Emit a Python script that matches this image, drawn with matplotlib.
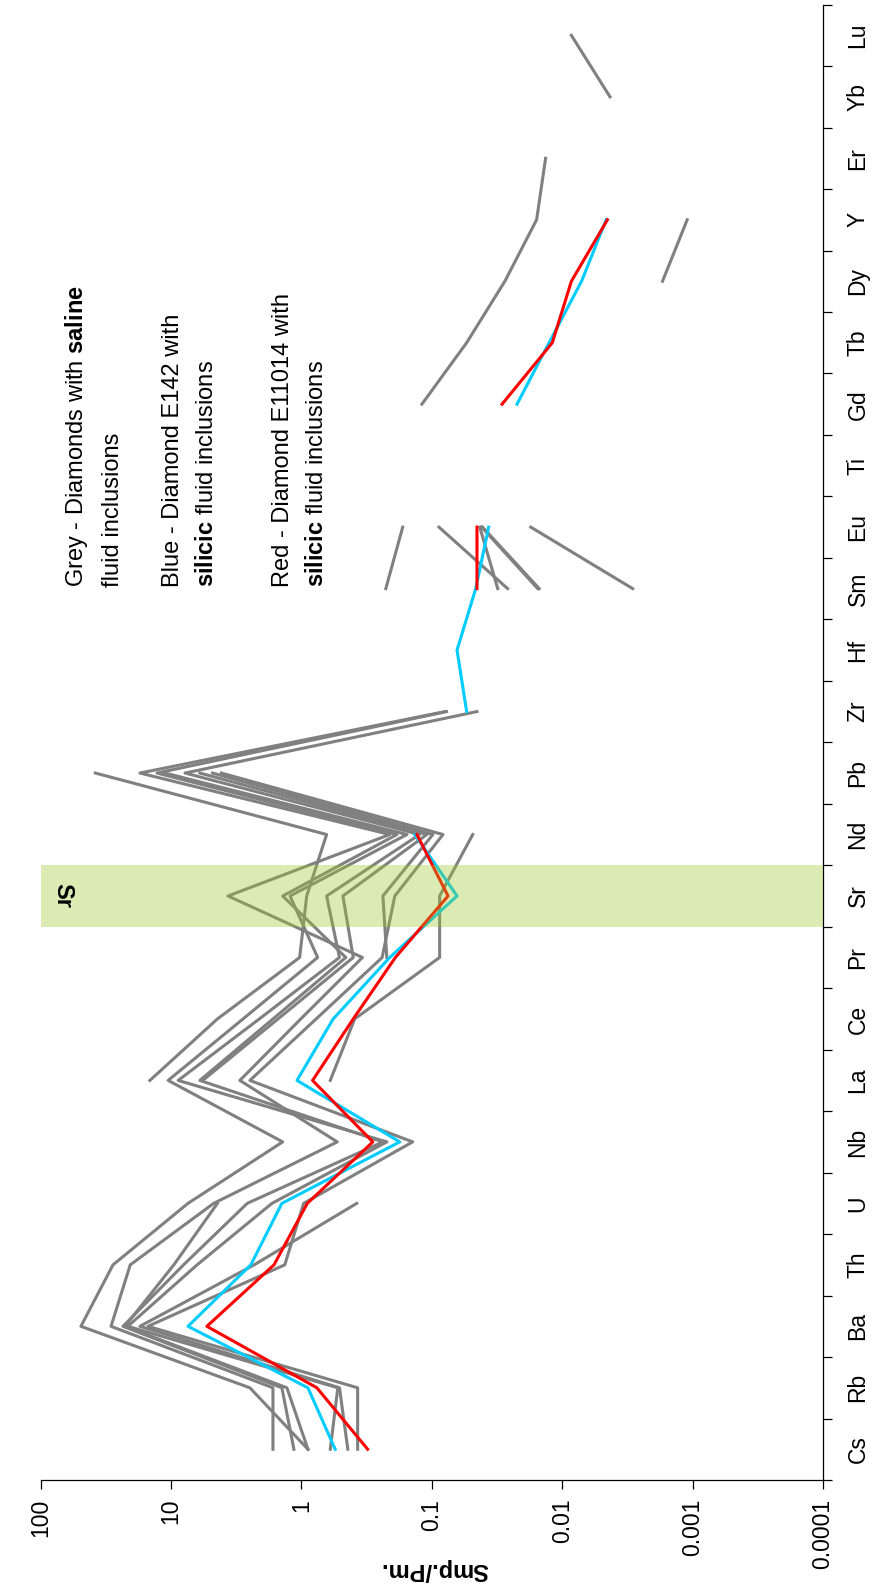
import numpy as np
import matplotlib
matplotlib.use("Agg")
import matplotlib.pyplot as plt
from matplotlib.ticker import NullLocator

plt.rcParams['font.family'] = ['Liberation Sans', 'DejaVu Sans']
plt.rcParams['mathtext.fontset'] = 'custom'
plt.rcParams['mathtext.rm'] = 'Liberation Sans'
plt.rcParams['mathtext.bf'] = 'Liberation Sans:bold'

n = np.nan
elements = ['Cs', 'Rb', 'Ba', 'Th', 'U', 'Nb', 'La', 'Ce', 'Pr', 'Sr', 'Nd', 'Pb',
            'Zr', 'Hf', 'Sm', 'Eu', 'Ti', 'Gd', 'Tb', 'Dy', 'Y', 'Er', 'Yb', 'Lu']

# grey - diamonds with saline fluid inclusions (gaps = no data)
grey1 = [0.89, 2.48, 49, 27.8, 7.4, 1.39, 10.5, 2.8, 0.75, 1.22, 0.155, 11.1,
         n, n, 0.225, 0.167, n, n, n, n, n, n, n, n]
grey2 = [1.65, 1.65, 28.8, 20.5, 4.7, 0.53, 2.96, 1.01, 0.34, 3.65, 0.21, 17.3,
         0.079, n, 0.0262, 0.088, n, n, n, n, n, n, 0.0043, 0.0085]
grey3 = [1.14, 1.41, 23.3, 8.0, 2.6, 0.237, 6.0, 1.65, 0.456, 1.39, 0.185, 12.8,
         0.077, n, 0.0312, 0.0428, n, n, n, n, n, n, n, n]
grey4 = [0.60, 0.525, 21.4, 6.3, 1.68, 0.221, 8.8, 2.1, 0.51, 0.64, 0.124, 7.8,
         0.045, n, 0.0154, 0.0414, n, n, n, n, n, n, n, n]
grey5 = [0.44, 0.51, 17.3, 2.3, 0.376, n, n, n, n, n, n, n,
         n, n, n, n, n, n, n, 0.0017, 0.0011, n, n, n]
grey6 = [0.37, 0.37, 15.0, 1.34, 0.96, 0.14, 2.48, 0.77, 0.24, 0.192, 0.082, 4.1,
         n, n, 0.00288, 0.0174, n, n, n, n, n, n, n, n]
grey7 = [0.89, 1.29, 22.5, 9.5, 4.4, n, n, n, n, n, n, n,
         n, n, n, n, n, n, n, n, n, n, n, n]
grey8 = [n, n, n, n, n, n, 14.5, 4.4, 1.03, 0.91, 0.64, 38,
         n, n, n, n, n, n, n, n, n, n, n, n]
grey9 = [n, n, n, n, n, n, 5.7, 1.51, 0.40, 0.48, 0.109, 6.0,
         n, n, 0.0150, 0.0408, n, n, n, n, n, n, n, n]
grey10 = [n, n, n, n, n, n, n, n, 0.221, 0.237, 0.098, 4.8,
          n, n, n, n, n, 0.119, 0.054, 0.0275, 0.0157, 0.0134, n, n]
grey11 = [n, n, n, n, n, n, 0.6, 0.39, 0.087, 0.087, 0.0485, n,
          n, n, n, n, n, n, n, n, n, n, n, n]
greys = [grey1, grey2, grey3, grey4, grey5, grey6, grey7, grey8, grey9, grey10, grey11]

# blue - diamond E142, red - diamond E11014
blue = [0.55, 0.89, 7.4, 2.44, 1.41, 0.176, 1.08, 0.57, 0.21, 0.064, 0.135, n,
        0.054, 0.064, 0.046, 0.0366, n, 0.0222, 0.0126, 0.0071, 0.0046, n, n, n]
red = [0.31, 0.76, 5.3, 1.62, 0.90, 0.283, 0.82, 0.40, 0.19, 0.075, 0.13, n,
       n, n, 0.045, 0.045, n, 0.0289, 0.0119, 0.0085, 0.0045, n, n, n]

xticks = [100, 10, 1, 0.1, 0.01, 0.001, 0.0001]
xticklabels = ['100', '10', '1', '0.1', '0.01', '0.001', '0.0001']

W, H = 877, 1592
fig = plt.figure(figsize=(W / 100, H / 100), dpi=100)
# chart is drawn turned by 90 degrees: values run along x, elements along y
ax = fig.add_axes([40.5 / W, 1 - 1480 / H, (823 - 40.5) / W, (1480 - 4.6) / H])

pos = np.arange(len(elements)) + 0.5
for g in greys:
    ax.plot(g, pos, color='#808080', lw=2.2, zorder=2)
ax.plot(blue, pos, color='#00CCFF', lw=2.2, zorder=3)
ax.plot(red, pos, color='#FF0000', lw=2.2, zorder=4)

# Sr highlight band
sr = elements.index('Sr')
ax.axhspan(sr, sr + 1, color='#9BC828', alpha=0.35, lw=0, zorder=5)
ax.text(0.028, sr + 0.5, 'Sr', transform=ax.get_yaxis_transform(), rotation=270,
        ha='center', va='center', fontsize=17, fontweight='bold', zorder=6)

ax.set_xscale('log')
ax.set_xlim(100, 0.0001)
ax.set_ylim(0, len(elements))
ax.set_xticks(xticks)
ax.set_xticklabels(xticklabels)
ax.xaxis.set_minor_locator(NullLocator())
ax.tick_params(axis='x', which='major', direction='out', length=6.5, width=0.9,
               labelsize=16.5, labelrotation=90, pad=7)

ax.yaxis.tick_right()
ax.set_yticks(np.arange(len(elements) + 1))
ax.set_yticklabels([])
ax.set_yticks(pos, minor=True)
ax.set_yticklabels(elements, minor=True)
ax.tick_params(axis='y', which='major', direction='out', length=6.5, width=0.9,
               left=False, right=True)
ax.tick_params(axis='y', which='minor', length=0, left=False, right=True,
               labelleft=False, labelright=True, labelsize=16.5, labelrotation=90, pad=17)
for lab in ax.get_yticklabels(minor=True):
    lab.set_va('center')

for s in ['left', 'top']:
    ax.spines[s].set_visible(False)
for s in ['right', 'bottom']:
    ax.spines[s].set_linewidth(0.9)

fig.text(434 / W, 1 - 1570 / H, 'Smp./Pm.', rotation=180, ha='center', va='center',
         fontsize=17, fontweight='bold')

# legend text blocks
notes = [(76, r'Grey - Diamonds with $\mathbf{saline}$'),
         (113, 'fluid inclusions'),
         (173, 'Blue - Diamond E142 with'),
         (207, r'$\mathbf{silicic}$ fluid inclusions'),
         (283, 'Red - Diamond E11014 with'),
         (317, r'$\mathbf{silicic}$ fluid inclusions')]
for xp, txt in notes:
    fig.text(xp / W, 1 - 587 / H, txt, rotation=90, rotation_mode='anchor',
             ha='left', va='center', fontsize=17)

fig.savefig('out.png', dpi=100)
